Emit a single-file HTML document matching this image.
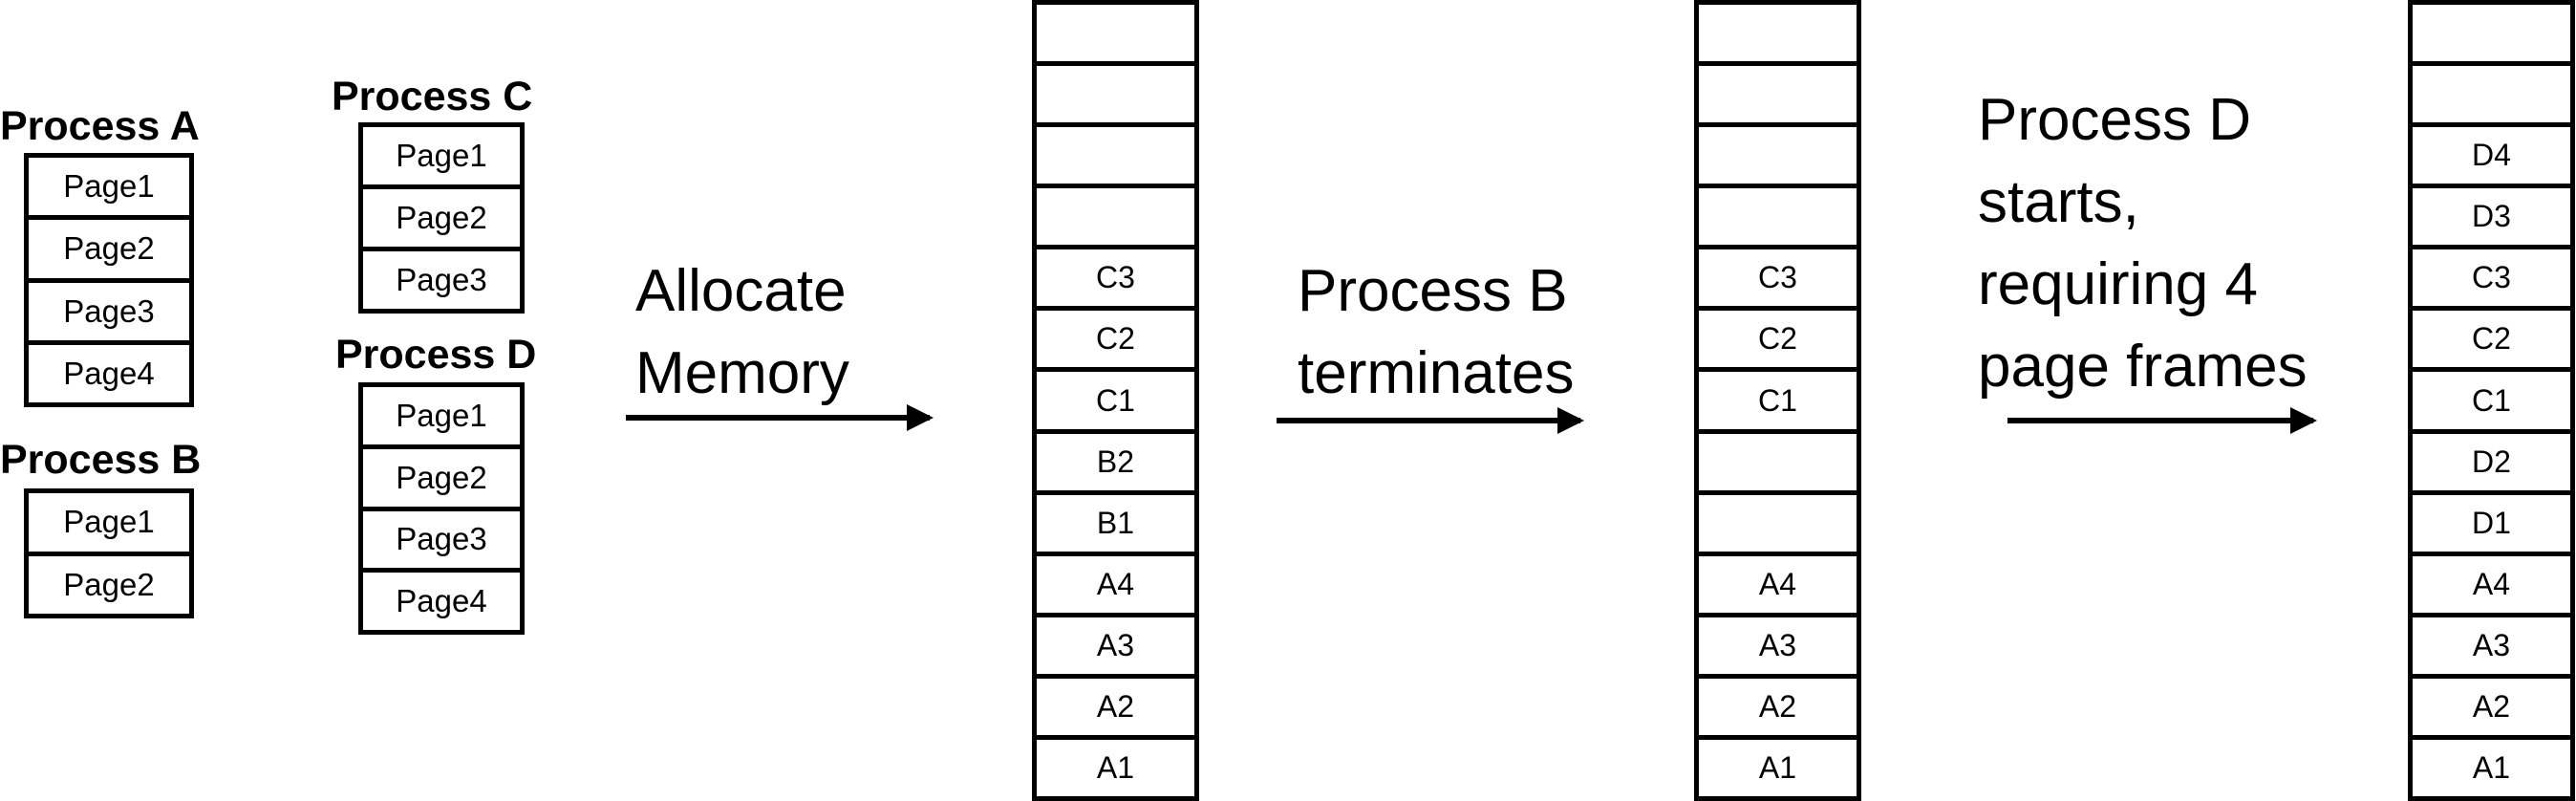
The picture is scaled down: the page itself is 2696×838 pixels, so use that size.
<!DOCTYPE html>
<html><head><meta charset="utf-8"><style>
html,body{margin:0;padding:0;background:#fff;}
body{width:2696px;height:838px;position:relative;overflow:hidden;font-family:"Liberation Sans",sans-serif;color:#000;}
.col{position:absolute;border:5px solid #000;display:flex;flex-direction:column;box-sizing:border-box;}
.col div{flex:1;border-bottom:5px solid #000;display:flex;align-items:center;justify-content:center;font-size:32px;}
.col div:last-child{border-bottom:none;}
.pg div{font-size:33px;}
.lbl{position:absolute;font-size:43px;font-weight:bold;white-space:nowrap;line-height:1;}
.txt{position:absolute;font-size:62px;line-height:86px;white-space:nowrap;}
.arrow{position:absolute;height:6px;background:#000;}
.arrow:after{content:"";position:absolute;right:-4px;top:-11px;border-left:28px solid #000;border-top:14px solid transparent;border-bottom:14px solid transparent;}
</style></head><body>
<div class="lbl" style="left:0;top:111px">Process A</div>
<div class="col pg" style="left:25px;top:160px;width:178px;height:266px"><div>Page1</div><div>Page2</div><div>Page3</div><div>Page4</div></div>
<div class="lbl" style="left:0;top:460px">Process B</div>
<div class="col pg" style="left:25px;top:511px;width:178px;height:136px"><div>Page1</div><div>Page2</div></div>
<div class="lbl" style="left:347px;top:80px">Process C</div>
<div class="col pg" style="left:375px;top:128px;width:174px;height:200px"><div>Page1</div><div>Page2</div><div>Page3</div></div>
<div class="lbl" style="left:351px;top:350px">Process D</div>
<div class="col pg" style="left:375px;top:400px;width:174px;height:264px"><div>Page1</div><div>Page2</div><div>Page3</div><div>Page4</div></div>

<div class="txt" style="left:665px;top:262px">Allocate<br>Memory</div>
<div class="arrow" style="left:655px;top:434px;width:318px"></div>

<div class="col" style="left:1080px;top:0;width:175px;height:838px"><div></div><div></div><div></div><div></div><div>C3</div><div>C2</div><div>C1</div><div>B2</div><div>B1</div><div>A4</div><div>A3</div><div>A2</div><div>A1</div></div>

<div class="txt" style="left:1358px;top:262px">Process B<br>terminates</div>
<div class="arrow" style="left:1336px;top:437px;width:318px"></div>

<div class="col" style="left:1773px;top:0;width:175px;height:838px"><div></div><div></div><div></div><div></div><div>C3</div><div>C2</div><div>C1</div><div></div><div></div><div>A4</div><div>A3</div><div>A2</div><div>A1</div></div>

<div class="txt" style="left:2070px;top:83px">Process D<br>starts,<br>requiring 4<br>page frames</div>
<div class="arrow" style="left:2101px;top:437px;width:320px"></div>

<div class="col" style="left:2520px;top:0;width:175px;height:838px"><div></div><div></div><div>D4</div><div>D3</div><div>C3</div><div>C2</div><div>C1</div><div>D2</div><div>D1</div><div>A4</div><div>A3</div><div>A2</div><div>A1</div></div>
</body></html>
